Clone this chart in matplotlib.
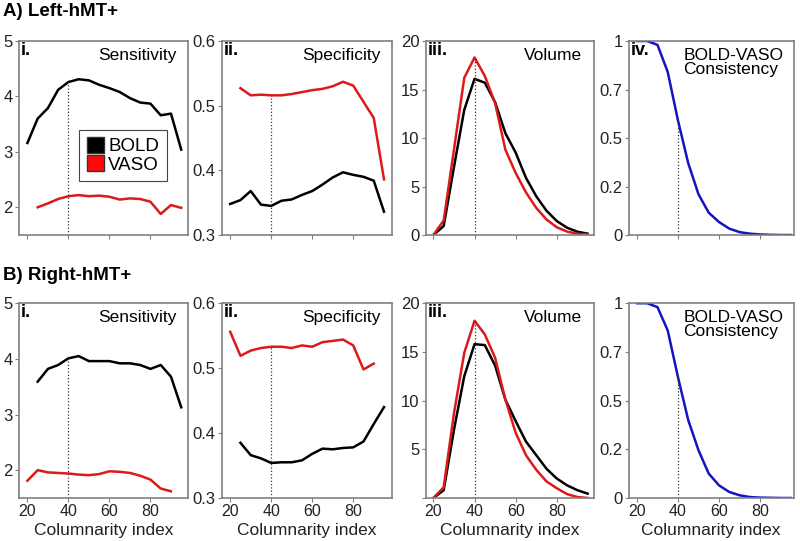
import numpy as np
import matplotlib
matplotlib.use('Agg')
import matplotlib.pyplot as plt
from matplotlib.patches import Patch

nan = np.nan
col_idx = [20, 25, 30, 35, 40, 45, 50, 55, 60, 65, 70, 75, 80, 85, 90, 95]

# A) Left-hMT+
a_sens_bold = [3.16, 3.60, 3.79, 4.12, 4.26, 4.31, 4.29, 4.21, 4.15, 4.08, 3.97, 3.89, 3.87, 3.66, 3.69, 3.04]
a_sens_vaso = [nan, 2.00, 2.07, 2.15, 2.20, 2.22, 2.20, 2.21, 2.19, 2.14, 2.16, 2.15, 2.10, 1.88, 2.04, 1.99]
a_spec_bold = [0.348, 0.354, 0.368, 0.347, 0.345, 0.353, 0.355, 0.362, 0.368, 0.378, 0.389, 0.397, 0.393, 0.390, 0.384, 0.336]
a_spec_vaso = [nan, 0.527, 0.516, 0.517, 0.516, 0.516, 0.518, 0.521, 0.524, 0.526, 0.530, 0.537, 0.531, 0.506, 0.481, 0.386]
a_vol_bold = [0, 0.93, 7.0, 12.9, 16.1, 15.7, 13.7, 10.5, 8.5, 5.9, 4.0, 2.5, 1.44, 0.75, 0.34, 0.14]
a_vol_vaso = [0, 1.5, 8.8, 16.2, 18.3, 16.4, 13.6, 8.8, 6.4, 4.4, 2.8, 1.6, 0.8, 0.35, 0.13, 0.05]
a_cons = [1.0, 1.0, 0.98, 0.84, 0.59, 0.37, 0.21, 0.115, 0.067, 0.033, 0.015, 0.007, 0.003, 0.001, 0.0, 0.0]

# B) Right-hMT+
b_sens_bold = [nan, 3.59, 3.82, 3.89, 4.01, 4.05, 3.96, 3.96, 3.96, 3.92, 3.92, 3.89, 3.82, 3.89, 3.68, 3.13]
b_sens_vaso = [1.81, 2.00, 1.96, 1.95, 1.94, 1.92, 1.91, 1.93, 1.98, 1.97, 1.95, 1.90, 1.83, 1.67, 1.62, nan]
b_spec_bold = [nan, 0.385, 0.366, 0.361, 0.354, 0.355, 0.355, 0.358, 0.368, 0.376, 0.375, 0.377, 0.378, 0.387, 0.414, 0.440]
b_spec_vaso = [0.556, 0.519, 0.527, 0.531, 0.533, 0.533, 0.531, 0.535, 0.533, 0.540, 0.542, 0.544, 0.535, 0.498, 0.507, nan]
b_vol_bold = [0, 0.8, 7.0, 12.5, 15.8, 15.7, 13.6, 10.1, 7.9, 5.8, 4.4, 3.0, 2.0, 1.3, 0.8, 0.45]
b_vol_vaso = [0, 1.1, 8.7, 14.9, 18.2, 16.8, 14.4, 10.1, 6.7, 4.4, 2.9, 1.7, 1.0, 0.4, 0.1, 0.0]
b_cons = [1.0, 1.0, 0.98, 0.86, 0.62, 0.40, 0.245, 0.125, 0.065, 0.031, 0.014, 0.005, 0.002, 0.001, 0.0, 0.0]

RED = '#dd1a1a'
BLUE = '#1414c4'
GRAY = '#808080'

plt.rcParams['font.family'] = ['Liberation Sans', 'DejaVu Sans']

fig = plt.figure(figsize=(8, 5.41), dpi=100)

lefts = [0.024, 0.2775, 0.5325, 0.786]
widths = [0.211, 0.2125, 0.21, 0.206]
rows = [(0.5656, 0.3586), (0.0795, 0.360)]


def style(ax, xlim, bottom_row):
    ax.set_xlim(*xlim)
    for s in ax.spines.values():
        s.set_color(GRAY)
        s.set_linewidth(1.2)
    ax.tick_params(direction='out', length=3, color=GRAY, labelcolor='#222222', pad=1.5)
    ax.tick_params(axis='y', labelsize=12)
    ax.tick_params(axis='x', labelsize=11.5)
    ax.set_xticks([20, 40, 60, 80])
    if bottom_row:
        ax.set_xlabel('Columnarity index', fontsize=12.5, color='#222222', labelpad=3)
    else:
        ax.set_xticklabels([])


def vline40(ax, series, ylo):
    i = col_idx.index(40)
    top = max(s[i] for s in series)
    ax.vlines(40, ylo, top, colors='#333333', linestyles=':', linewidth=0.9)


def tag(ax, roman, title, x=0.93, ha='right'):
    ax.text(0.01, 0.995, roman, transform=ax.transAxes, ha='left', va='top',
            fontsize=13, fontweight='bold')
    ax.text(x, 0.965, title, transform=ax.transAxes, ha=ha, va='top',
            fontsize=12.5, linespacing=0.95)


datasets = [
    (a_sens_bold, a_sens_vaso, a_spec_bold, a_spec_vaso, a_vol_bold, a_vol_vaso, a_cons),
    (b_sens_bold, b_sens_vaso, b_spec_bold, b_spec_vaso, b_vol_bold, b_vol_vaso, b_cons),
]

for r, (sb, sv, pb, pv, vb, vv, cs) in enumerate(datasets):
    bottom, height = rows[r]
    bottom_row = (r == 1)
    axs = [fig.add_axes([lefts[c], bottom, widths[c], height]) for c in range(4)]

    # i. Sensitivity
    ax = axs[0]
    ax.plot(col_idx, sb, color='black', lw=1.8)
    ax.plot(col_idx, sv, color=RED, lw=1.8)
    ax.set_ylim(1.5, 5)
    ax.set_yticks([2, 3, 4, 5])
    vline40(ax, [sb], 1.5)
    style(ax, (16, 98.3), bottom_row)
    tag(ax, 'i.', 'Sensitivity')
    if r == 0:
        handles = [Patch(facecolor='black', edgecolor='#333333', label='BOLD'),
                   Patch(facecolor='#ff0a0a', edgecolor='#333333', label='VASO')]
        leg = ax.legend(handles=handles, loc='center', bbox_to_anchor=(0.615, 0.41),
                        fontsize=13.5, handlelength=0.9, handleheight=0.9,
                        labelspacing=0.0, handletextpad=0.25, borderpad=0.4,
                        fancybox=False, framealpha=1, edgecolor='#444444')
        leg.get_frame().set_linewidth(0.8)

    # ii. Specificity
    ax = axs[1]
    ax.plot(col_idx, pb, color='black', lw=1.8)
    ax.plot(col_idx, pv, color=RED, lw=1.8)
    ax.set_ylim(0.3, 0.6)
    ax.set_yticks([0.3, 0.4, 0.5, 0.6])
    vline40(ax, [pv], 0.3)
    style(ax, (16, 98.9), bottom_row)
    tag(ax, 'ii.', 'Specificity')

    # iii. Volume
    ax = axs[2]
    ax.plot(col_idx, vb, color='black', lw=1.8)
    ax.plot(col_idx, vv, color=RED, lw=1.8)
    ax.set_ylim(0, 20)
    ax.set_yticks([0, 5, 10, 15, 20])
    if bottom_row:
        ax.set_yticklabels(['', '5', '10', '15', '20'])
    vline40(ax, [vb, vv], 0)
    style(ax, (16.4, 98.1), bottom_row)
    tag(ax, 'iii.', 'Volume')

    # iv. BOLD-VASO consistency
    ax = axs[3]
    ax.plot(col_idx, cs, color=BLUE, lw=1.8)
    ax.set_ylim(0, 1)
    ax.set_yticks([0, 0.25, 0.5, 0.75, 1])
    ax.set_yticklabels(['0', '0.2', '0.5', '0.7', '1'])
    vline40(ax, [cs], 0)
    style(ax, (16, 96.4), bottom_row)
    tag(ax, 'iv.' if r == 0 else '', 'BOLD-VASO\nConsistency', x=0.33, ha='left')

fig.text(0.004, 0.978, 'A) Left-hMT+', fontsize=13.5, fontweight='bold', va='center')
fig.text(0.004, 0.49, 'B) Right-hMT+', fontsize=13.5, fontweight='bold', va='center')

fig.savefig('out.png', dpi=100)
